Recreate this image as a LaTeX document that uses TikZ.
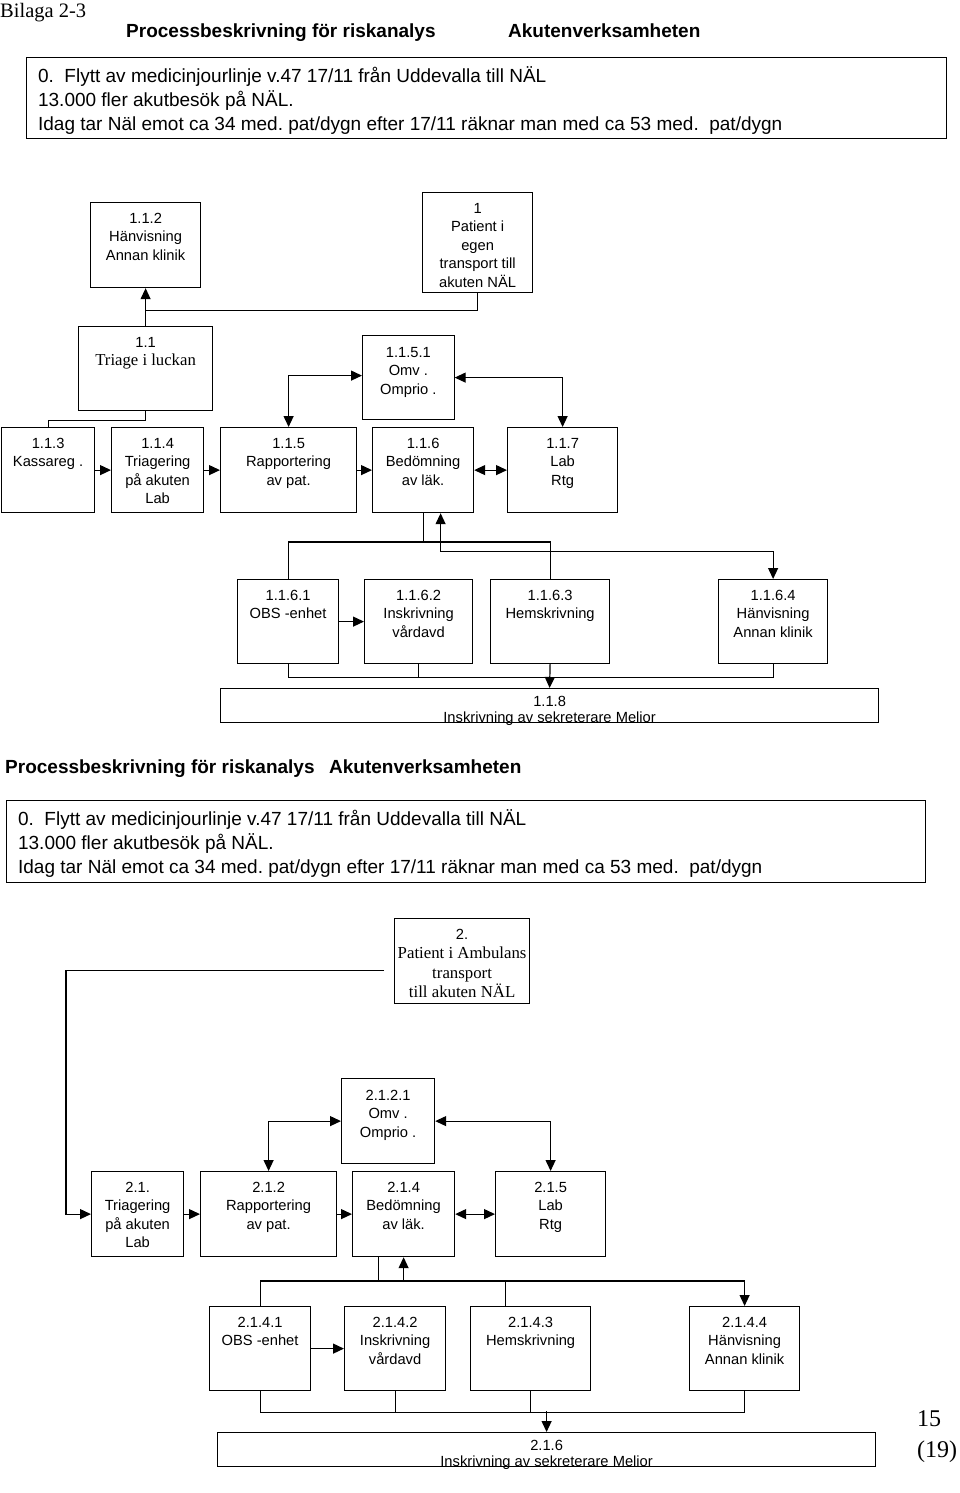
\documentclass[tikz,border=0pt]{standalone}
\usepackage{fontspec}
\setmainfont{Liberation Serif}
\setsansfont{Liberation Sans}
\usepackage{tikz}
\usetikzlibrary{arrows.meta,positioning,calc}

\newcommand{\cell}[4][20.5pt]{\parbox[c][#3][t]{#2}{\centering\rule{0pt}{#1}#4}}
\newcommand{\intro}[3]{\parbox[c][#2][t]{#1}{\raggedright\leftskip=11.5pt\rule{0pt}{24.5pt}#3}}
\newcommand{\serifline}{\rmfamily\fontsize{16.7}{18.5}\selectfont}

\tikzset{
    proc/.style={draw, line width=1.2pt, inner sep=0pt, anchor=north west,
        font=\sffamily\fontsize{14.7}{18.5}\selectfont},
    introbox/.style={draw, line width=1.2pt, inner sep=0pt, anchor=north west,
        font=\sffamily\fontsize{19}{24}\selectfont\frenchspacing},
    heading/.style={anchor=base west, inner sep=0pt, font=\sffamily\bfseries\fontsize{19}{23}\selectfont},
    link/.style={line width=1.2pt},
    arr/.style={line width=1.2pt, -{Triangle[length=11pt,width=10pt]}},
    arrback/.style={line width=1.2pt, {Triangle[length=11pt,width=10pt]}-},
    arrboth/.style={line width=1.2pt, {Triangle[length=11pt,width=10pt]}-{Triangle[length=11pt,width=10pt]}}
}

\begin{document}
\begin{tikzpicture}[x=1pt,y=-1pt]
    \useasboundingbox (0,0) rectangle (960,1493);

    \node[anchor=base west, inner sep=0pt, font=\rmfamily\fontsize{20.5}{24}\selectfont] (bilaga) at (0,18) {Bilaga 2-3};
    \node[heading] (titleA) at (126,38) {Processbeskrivning för riskanalys};
    \node[heading] (unitA) at (508,38) {Akutenverksamheten};
    \node[introbox] (introA) at (26,57) {\intro{919.5pt}{81pt}{0.\ \ Flytt av medicinjourlinje v.47 17/11 från Uddevalla till NÄL\\
        13.000 fler akutbesök på NÄL.\\
        Idag tar Näl emot ca 34 med. pat/dygn efter 17/11 räknar man med ca 53 med.\ \ pat/dygn}};

    \node[proc] (n112) at (90,202) {\cell{110pt}{85pt}{1.1.2\\Hänvisning\\Annan klinik}};
    \node[proc] (n1) at (422,192) {\cell{110pt}{100pt}{1\\Patient i\\egen\\transport till\\akuten NÄL}};
    \node[proc] (n11) at (78,326) {\cell{134pt}{84pt}{1.1\\{\serifline Triage i luckan}}};
    \node[proc] (n1151) at (362,335) {\cell[21.5pt]{91.5pt}{84pt}{1.1.5.1\\Omv .\\Omprio .}};
    \node[proc] (n113) at (1,427) {\cell{93pt}{85pt}{1.1.3\\Kassareg .}};
    \node[proc] (n114) at (111,427) {\cell{92pt}{85pt}{1.1.4\\Triagering\\på akuten\\Lab}};
    \node[proc] (n115) at (220,427) {\cell{136pt}{85pt}{1.1.5\\Rapportering\\av pat.}};
    \node[proc] (n116) at (372,427) {\cell{101pt}{85pt}{1.1.6\\Bedömning\\av läk.}};
    \node[proc] (n117) at (507,427) {\cell{110pt}{85pt}{1.1.7\\Lab\\Rtg}};
    \node[proc] (n1161) at (237,579) {\cell{101pt}{84pt}{1.1.6.1\\OBS -enhet}};
    \node[proc] (n1162) at (364,579) {\cell{108pt}{84pt}{1.1.6.2\\Inskrivning\\vårdavd}};
    \node[proc] (n1163) at (490,579) {\cell{119pt}{84pt}{1.1.6.3\\Hemskrivning}};
    \node[proc] (n1164) at (718,579) {\cell{109pt}{84pt}{1.1.6.4\\Hänvisning\\Annan klinik}};
    \node[proc, font=\sffamily\fontsize{14.7}{16}\selectfont] (n118) at (220,688) {\cell[17.5pt]{658pt}{34pt}{1.1.8\\Inskrivning av sekreterare Melior}};

    \draw[arr] (n11.north) -- (n112.south);
    \draw[link] (n1.south) -- ++(0,17) -| (n11.north);
    \draw[link] (n11.south) -- ++(0,9) -| (n113.north);
    \draw[arr] (n113.east) -- (n114.west);
    \draw[arr] (n114.east) -- (n115.west);
    \draw[arr] (n115.east) -- (n116.west);
    \draw[arrboth] (n116.east) -- (n117.west);
    \draw[arrboth] ([yshift=2pt]n1151.west) -| (n115.north);
    \draw[arrboth] (n1151.east) -| (n117.north);
    \draw[link] (n116.south) -- ++(0,30);
    \draw[link] (n1161.north) -- ++(0,-37) -| (n1163.north);
    \draw[arrboth] ([xshift=17.5pt]n116.south) -- ++(0,38) -| (n1164.north);
    \draw[arr] (n1161.east) -- (n1162.west);
    \draw[link] (n1161.south) -- ++(0,13) -| (n1164.south);
    \draw[link] (n1162.south) -- ++(0,13);
    \draw[arr] (n1163.south) -- (n118.north);

    \node[heading] (titleB) at (5,773) {Processbeskrivning för riskanalys};
    \node[heading] (unitB) at (329,773) {Akutenverksamheten};
    \node[introbox] (introB) at (6,800) {\intro{919pt}{82pt}{0.\ \ Flytt av medicinjourlinje v.47 17/11 från Uddevalla till NÄL\\
        13.000 fler akutbesök på NÄL.\\
        Idag tar Näl emot ca 34 med. pat/dygn efter 17/11 räknar man med ca 53 med.\ \ pat/dygn}};

    \node[proc] (n2) at (394,918) {\cell{135pt}{85pt}{2.\\\rmfamily\fontsize{16.8}{19.5}\selectfont Patient i Ambulans\\transport\\till akuten NÄL}};
    \node[proc] (n2121) at (341,1078) {\cell[21.5pt]{93pt}{85pt}{2.1.2.1\\Omv .\\Omprio .}};
    \node[proc] (n21) at (91,1171) {\cell{92pt}{85pt}{2.1.\\Triagering\\på akuten\\Lab}};
    \node[proc] (n212) at (200,1171) {\cell{136pt}{85pt}{2.1.2\\Rapportering\\av pat.}};
    \node[proc] (n214) at (352,1171) {\cell{102pt}{85pt}{2.1.4\\Bedömning\\av läk.}};
    \node[proc] (n215) at (495,1171) {\cell{110pt}{85pt}{2.1.5\\Lab\\Rtg}};
    \node[proc] (n2141) at (209,1306) {\cell{101pt}{84pt}{2.1.4.1\\OBS -enhet}};
    \node[proc] (n2142) at (344,1306) {\cell{101pt}{84pt}{2.1.4.2\\Inskrivning\\vårdavd}};
    \node[proc] (n2143) at (470,1306) {\cell{120pt}{84pt}{2.1.4.3\\Hemskrivning}};
    \node[proc] (n2144) at (689,1306) {\cell{110pt}{84pt}{2.1.4.4\\Hänvisning\\Annan klinik}};
    \node[proc, font=\sffamily\fontsize{14.7}{16}\selectfont] (n216) at (217,1432) {\cell[17.5pt]{658pt}{34pt}{2.1.6\\Inskrivning av sekreterare Melior}};

    \draw[arr] ([xshift=-10pt,yshift=-9.5pt]n2.west) -| ([xshift=-25pt]n21.west) -- (n21.west);
    \draw[arrboth] (n2121.west) -| (n212.north);
    \draw[arrboth] (n2121.east) -| (n215.north);
    \draw[arr] (n21.east) -- (n212.west);
    \draw[arr] (n212.east) -- (n214.west);
    \draw[arrboth] (n214.east) -- (n215.west);
    \draw[arr] (n2141.north) -- ++(0,-25) -| (n2144.north);
    \draw[link] ([xshift=-25pt]n214.south) -- ++(0,25);
    \draw[arrback] (n214.south) -- ++(0,25);
    \draw[link] ([xshift=-25pt]n2143.north) -- ++(0,-25);
    \draw[arr] (n2141.east) -- (n2142.west);
    \draw[link] (n2141.south) -- ++(0,21) -| (n2144.south);
    \draw[link] (n2142.south) -- ++(0,21);
    \draw[link] (n2143.south) -- ++(0,21);
    \draw[arr] (n216.north) ++(0,-21) -- (n216.north);

    \node[anchor=base west, inner sep=0pt, font=\rmfamily\fontsize{24}{31}\selectfont, align=left] (pageno) at (917,1457) {15\\(19)};
\end{tikzpicture}
\end{document}
